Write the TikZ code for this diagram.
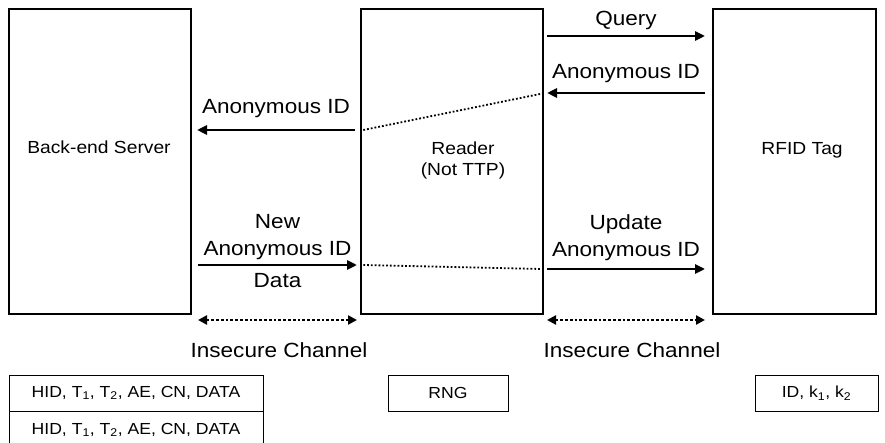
\documentclass[tikz,border=0pt]{standalone}
\usepackage{fontspec}
\setmainfont[FakeStretch=1.1]{Liberation Sans}
\usetikzlibrary{arrows.meta}
\begin{document}
\begin{tikzpicture}[x=1pt,y=-1pt,
  party/.style={draw,line width=1.4pt,minimum width=#1,minimum height=305pt,inner sep=0pt},
  party/.default=180pt,
  boxlabel/.style={font=\fontsize{17.5}{21}\selectfont,align=center},
  msglabel/.style={font=\fontsize{20.5}{27}\selectfont,align=center},
  msg/.style={line width=2.8pt,-{Triangle[length=10pt,width=9pt]}},
  link/.style={line width=1.8pt,dotted},
  chan/.style={line width=2.8pt,dotted,{Triangle[length=9pt,width=9pt]}-{Triangle[length=9pt,width=9pt]}},
  store/.style={draw,line width=0.9pt,minimum height=36pt,inner sep=0pt,font=\fontsize{16}{19}\selectfont},
  ]
\useasboundingbox (0,0) rectangle (885,443);

% the three parties
\node[party=182pt] (srv) at (100,161.5) {};
\node[party=182pt] (rdr) at (452,161.5) {};
\node[party=163pt] (tag) at (794.5,161.5) {};
\node[boxlabel] at (99,147) {Back-end Server};
\node[boxlabel] at (463,160) {Reader\\(Not TTP)};
\node[boxlabel] at (802,150) {RFID Tag};

% anchors for the message arrows
\coordinate (q1) at (547,36);   \coordinate (q2) at (705,36);
\coordinate (a1) at (705,93);   \coordinate (a2) at (547,93);
\coordinate (b1) at (355,130);  \coordinate (b2) at (197,130);
\coordinate (n1) at (198,265);  \coordinate (n2) at (357,265);
\coordinate (u1) at (547,269);  \coordinate (u2) at (705,269);

% reader to tag
\draw[msg] (q1) -- (q2) node[midway,above=2pt,msglabel] (lq) {Query};
\draw[msg] (a1) -- (a2) node[midway,above=6pt,msglabel] (la) {Anonymous ID};
\draw[msg] (u1) -- (u2) node[midway,above=4pt,msglabel] (lu) {Update\\Anonymous ID};

% reader to server
\draw[msg] (b1) -- (b2) node[midway,above=8pt,msglabel] (lb) {Anonymous ID};
\draw[msg] (n1) -- (n2) node[midway,above=1pt,msglabel] (ln) {New\\Anonymous ID}
                        node[midway,below=4pt,msglabel] (ld) {Data};

% relays through the reader
\draw[link] (rdr.west |- b1) ++(3,0) -- ([xshift=-2pt]a2);
\draw[link] (rdr.west |- n2) ++(3,0) -- ([xshift=-2pt]rdr.east |- u1);

% insecure channels
\coordinate (c1) at (198,320); \coordinate (c2) at (357,320);
\coordinate (c3) at (547,320); \coordinate (c4) at (705,320);
\draw[chan] (c1) -- (c2);
\draw[chan] (c3) -- (c4);
\node[msglabel] (ic1) at (279,350) {Insecure Channel};
\node[msglabel] (ic2) at (632,350) {Insecure Channel};

% stored values
\node[store,minimum width=254pt] (s1) at (136,393) {HID, T\textsubscript{1}, T\textsubscript{2}, AE, CN, DATA};
\node[store,minimum width=254pt,anchor=north] (s2) at (s1.south) {HID, T\textsubscript{1}, T\textsubscript{2}, AE, CN, DATA};
\node[store,minimum width=120pt] (s3) at (448,393) {RNG};
\node[store,minimum width=123pt] (s4) at (816.5,393) {ID, k\textsubscript{1}, k\textsubscript{2}};
\end{tikzpicture}
\end{document}
